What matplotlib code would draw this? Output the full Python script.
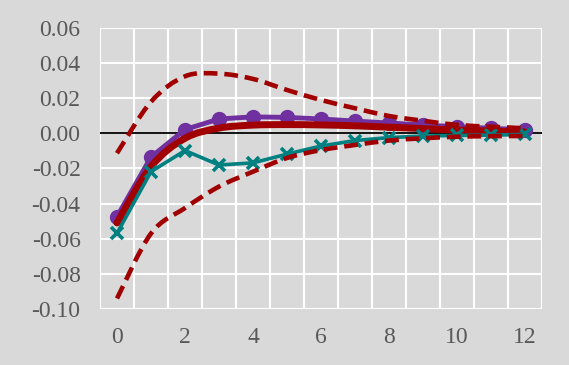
import numpy as np
import matplotlib.pyplot as plt
from matplotlib.path import Path
from matplotlib.patches import PathPatch

# horizons
h = list(range(13))

# impulse responses
purple = [-0.0474, -0.0135, 0.0022, 0.0082, 0.0094, 0.0091, 0.0082, 0.0070, 0.0059, 0.0048, 0.0038, 0.0029, 0.0020]
median = [-0.0510, -0.0190, -0.0028, 0.0030, 0.0047, 0.0050, 0.0048, 0.0043, 0.0035, 0.0027, 0.0019, 0.0013, 0.0008]
teal = [-0.0569, -0.0218, -0.0098, -0.0180, -0.0168, -0.0118, -0.0072, -0.0041, -0.0024, -0.0015, -0.0012, -0.0010, -0.0006]
upper = [-0.0113, 0.0180, 0.0325, 0.0340, 0.0310, 0.0247, 0.0190, 0.0143, 0.0099, 0.0072, 0.0048, 0.0038, 0.0029]
lower = [-0.0940, -0.0570, -0.0425, -0.0303, -0.0218, -0.0140, -0.0095, -0.0066, -0.0041, -0.0028, -0.0019, -0.0016, -0.0015]

bg = '#d9d9d9'
red = '#a00000'
plt.rcParams['font.family'] = ['Liberation Serif', 'DejaVu Serif']


def smooth_path(x, y):
    # Excel-like smoothed line: cubic bezier segments through the points
    p = np.column_stack([x, y]).astype(float)
    n = len(p)
    verts = [p[0]]
    codes = [Path.MOVETO]
    for i in range(n - 1):
        p0 = p[i - 1] if i > 0 else p[i]
        p3 = p[i + 2] if i + 2 < n else p[i + 1]
        c1 = p[i] + (p[i + 1] - p0) / 6
        c2 = p[i + 1] - (p3 - p[i]) / 6
        verts += [c1, c2, p[i + 1]]
        codes += [Path.CURVE4] * 3
    return Path(verts, codes)


fig = plt.figure(figsize=(5.69, 3.65), dpi=100, facecolor=bg)
ax = fig.add_axes([100/569, 1 - 309/365, 442/569, 281/365], facecolor=bg)

# grid (Excel style: vertical lines between categories)
for x in np.arange(-0.5, 13, 1):
    ax.axvline(x, color='white', lw=1.5, zorder=0)
for y in np.arange(-0.10, 0.061, 0.02):
    ax.axhline(y, color='white', lw=1.5, zorder=0)
ax.axhline(0, color='black', lw=1.3, zorder=1)

ax.plot(h, purple, color='#7030a0', lw=3.5, marker='o', ms=10, zorder=2)
ax.add_patch(PathPatch(smooth_path(h, median), fill=False, edgecolor=red, lw=5, zorder=3, capstyle='round'))
ax.plot(h, teal, color='#008080', lw=2.6, marker='x', ms=9, mew=2.6, zorder=4)
for band in (upper, lower):
    ax.add_patch(PathPatch(smooth_path(h, band), fill=False, edgecolor=red, lw=3.3,
                           ls=(0, (3, 1.5)), zorder=5))

ax.set_xlim(-0.5, 12.5)
ax.set_ylim(-0.10, 0.06)
ax.set_xticks(range(0, 13, 2))
ax.set_yticks(np.arange(-0.10, 0.061, 0.02))
ax.set_yticklabels([f'{v:.2f}' for v in np.arange(-0.10, 0.061, 0.02)])
ax.tick_params(length=0, labelsize=17, labelcolor='#595959')
ax.tick_params(axis='x', pad=13)
ax.tick_params(axis='y', pad=14)
for s in ax.spines.values():
    s.set_visible(False)

fig.savefig('out.png', dpi=100, facecolor=bg)
